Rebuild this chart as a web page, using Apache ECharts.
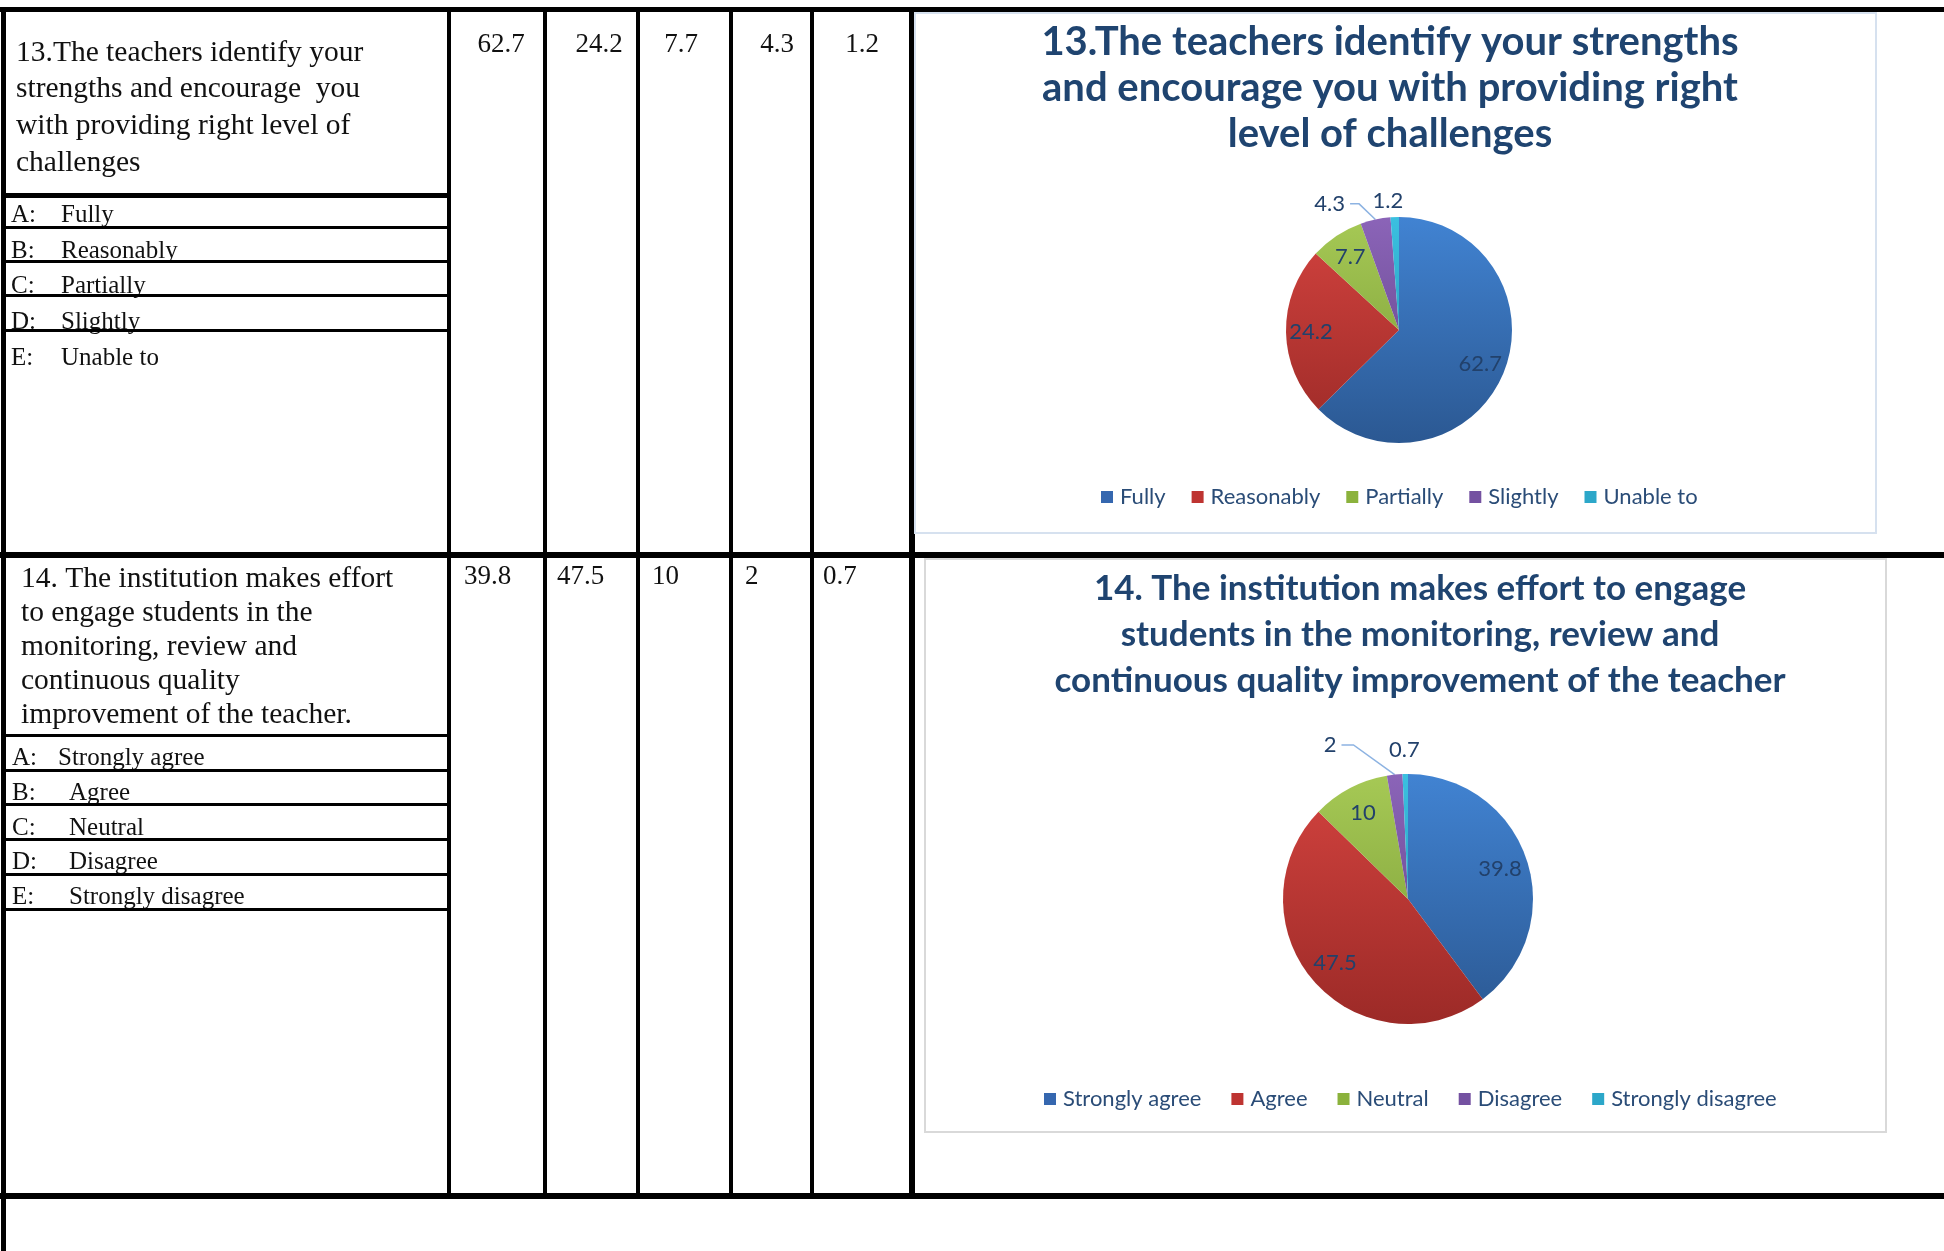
<!DOCTYPE html>
<html>
<head>
<meta charset="utf-8">
<script src="https://cdn.jsdelivr.net/npm/echarts@6/dist/echarts.min.js"></script>
<style>
html,body{margin:0;padding:0;background:#ffffff;}
#c{width:1944px;height:1251px;}
</style>
</head>
<body>
<div id="c"></div>
<script>
// ---------------- DATA ----------------
const q13Title = '13.The teachers identify your strengths\nand encourage you with providing right\nlevel of challenges';
const q13QuestionLines = ['13.The teachers identify your', 'strengths and encourage  you', 'with providing right level of', 'challenges'];
const q13Categories = ['Fully', 'Reasonably', 'Partially', 'Slightly', 'Unable to'];
const q13Values = [62.7, 24.2, 7.7, 4.3, 1.2];

const q14Title = '14. The institution makes effort to engage\nstudents in the monitoring, review and\ncontinuous quality improvement of the teacher';
const q14QuestionLines = ['14. The institution makes effort', 'to engage students in the', 'monitoring, review and', 'continuous quality', 'improvement of the teacher.'];
const q14Categories = ['Strongly agree', 'Agree', 'Neutral', 'Disagree', 'Strongly disagree'];
const q14Values = [39.8, 47.5, 10, 2, 0.7];

const optionLetters = ['A:', 'B:', 'C:', 'D:', 'E:'];

// ---------------- STYLE ----------------
const palette = [
  { top: '#4183D2', bottom: '#2B5892', flat: '#3567AF' },
  { top: '#D3433F', bottom: '#9C2A27', flat: '#BE3431' },
  { top: '#A6C955', bottom: '#789935', flat: '#8BB23C' },
  { top: '#8B64B8', bottom: '#5E4184', flat: '#7451A1' },
  { top: '#3BC0E0', bottom: '#218FAD', flat: '#2CA7C9' }
];
const titleColor = '#1F4470';
const labelColor = '#22416B';
const serif = '"Liberation Serif", "Times New Roman", serif';
const sans = 'Lato, "Open Sans", sans-serif';

const pies = [
  { cx: 1399, cy: 330, r: 113, values: q13Values, names: q13Categories, lineLen: 16, lineLen2: 22, knee: 9, lastLen: 16, lastDx: 14 },
  { cx: 1408, cy: 899, r: 125, values: q14Values, names: q14Categories, lineLen: 30, lineLen2: 50, knee: 12, lastLen: 24, lastDx: 20 }
];

// ---------------- TABLE GRAPHICS ----------------
const els = [];
function txt(x, y, text, size, align) {
  els.push({ type: 'text', x: x, y: y, silent: true,
    style: { text: text, font: size + 'px ' + serif, fill: '#111', align: align || 'left', verticalAlign: 'middle',
             textAlign: align || 'left', textVerticalAlign: 'middle' } });
}
function box(x, y, w, h) {
  els.push({ type: 'rect', silent: true, shape: { x: x, y: y, width: w, height: h }, style: { fill: '#000' } });
}

// question texts
q13QuestionLines.forEach((t, i) => txt(16, 53 + i * 36.7, t, 29.5));
q14QuestionLines.forEach((t, i) => txt(21, 579 + i * 34, t, 29.5));

// option rows
const q13RowY = [215, 251, 286, 322, 358];
const q14RowY = [758, 793, 828, 862, 897];
q13Categories.forEach((c, i) => { txt(11, q13RowY[i], optionLetters[i], 25); txt(61, q13RowY[i], c, 25); });
q14Categories.forEach((c, i) => { txt(12, q14RowY[i], optionLetters[i], 25); txt(i === 0 ? 58 : 69, q14RowY[i], c, 25); });

// value cells
const q13NumX = [501, 599, 681, 777, 862];
const q14NumX = [464, 557, 652, 745, 823];
q13Values.forEach((v, i) => txt(q13NumX[i], 45, String(v), 27, 'center'));
q14Values.forEach((v, i) => txt(q14NumX[i], 577, String(v), 27, 'left'));

// lines
box(0, 7, 1944, 5);      // top
box(0, 552, 1944, 6);    // row separator
box(0, 1193, 1944, 6);   // bottom
box(1, 7, 5, 1244);      // left border
[447, 543, 636, 729, 810].forEach(x => box(x, 7, 4, 1192));
box(909, 7, 6, 1192);
// left column row lines
box(1, 193, 450, 5);
[226, 260, 294, 329].forEach(y => box(1, y, 450, 3));
[734, 769, 803, 838, 873, 908].forEach(y => box(1, y, 450, 3));

// chart frames
els.push({ type: 'rect', silent: true, shape: { x: 915, y: 13, width: 961, height: 520 },
  style: { fill: 'none', stroke: '#D6E1EF', lineWidth: 2 } });
els.push({ type: 'rect', silent: true, shape: { x: 925, y: 559, width: 961, height: 573 },
  style: { fill: 'none', stroke: '#D9D9D9', lineWidth: 2 } });

// ---------------- SERIES ----------------
function gradientFor(p, k) {
  return { type: 'linear', x: 0, y: p.cy - p.r, x2: 0, y2: p.cy + p.r, global: true,
    colorStops: [{ offset: 0, color: palette[k].top }, { offset: 1, color: palette[k].bottom }] };
}
function pieSeries(p, idx) {
  return {
    type: 'pie',
    name: 'q' + idx,
    center: [p.cx, p.cy],
    radius: [0, p.r],
    startAngle: 90,
    clockwise: true,
    avoidLabelOverlap: false,
    animation: false,
    emphasis: { disabled: true },
    itemStyle: { borderWidth: 0 },
    label: { show: true, color: labelColor, fontFamily: sans, fontSize: 22, formatter: '{c}' },
    labelLine: { show: false },
    labelLayout: function (prm) {
      const v = p.values[prm.dataIndex];
      const lr = prm.labelRect;
      const lx = lr.x + lr.width / 2, ly = lr.y + lr.height / 2;
      if (v >= 5) return { dx: (lx - p.cx) * 0.48, dy: (ly - p.cy) * 0.48 };
      if (prm.dataIndex === p.values.length - 1) return { dx: p.lastDx };
      const pts = prm.labelLinePoints;
      if (pts && pts.length === 3) {
        const end = pts[2];
        return { labelLinePoints: [pts[0], [end[0] + p.knee, end[1]], end] };
      }
      return {};
    },
    data: p.values.map((v, k) => {
      const item = { value: v, name: p.names[k], itemStyle: { color: gradientFor(p, k) } };
      if (v >= 5) {
        item.label = { position: 'inside' };
      } else if (k === p.values.length - 1) {
        item.label = { position: 'outside' };
        item.labelLine = { show: false, length: p.lastLen, length2: 0 };
      } else {
        item.label = { position: 'outside' };
        item.labelLine = { show: true, length: p.lineLen, length2: p.lineLen2, lineStyle: { color: '#8DB3E2', width: 1.5 } };
      }
      return item;
    })
  };
}

const option = {
  backgroundColor: '#ffffff',
  animation: false,
  title: [
    { text: q13Title, left: 1390, top: 19, padding: 0, textAlign: 'center',
      textStyle: { fontFamily: sans, fontWeight: 'bold', fontSize: 40, lineHeight: 46, color: titleColor } },
    { text: q14Title, left: 1420, top: 566, padding: 0, textAlign: 'center',
      textStyle: { fontFamily: sans, fontWeight: 'bold', fontSize: 35, lineHeight: 46, color: titleColor } }
  ],
  legend: [
    { seriesIndex: 0, left: 1101, top: 485, padding: 0, itemWidth: 12, itemHeight: 12, itemGap: 26, icon: 'rect',
      data: q13Categories.map((c, k) => ({ name: c, itemStyle: { color: palette[k].flat } })),
      textStyle: { fontFamily: sans, fontSize: 22, lineHeight: 24, color: '#2A4C77', padding: [0, 0, 0, 2] }, selectedMode: false },
    { seriesIndex: 1, left: 1044, top: 1087, padding: 0, itemWidth: 12, itemHeight: 12, itemGap: 30, icon: 'rect',
      data: q14Categories.map((c, k) => ({ name: c, itemStyle: { color: palette[k].flat } })),
      textStyle: { fontFamily: sans, fontSize: 22, lineHeight: 24, color: '#2A4C77', padding: [0, 0, 0, 2] }, selectedMode: false }
  ],
  graphic: { elements: els },
  series: pies.map(pieSeries)
};

const chart = echarts.init(document.getElementById('c'));
chart.setOption(option);
</script>
</body>
</html>
